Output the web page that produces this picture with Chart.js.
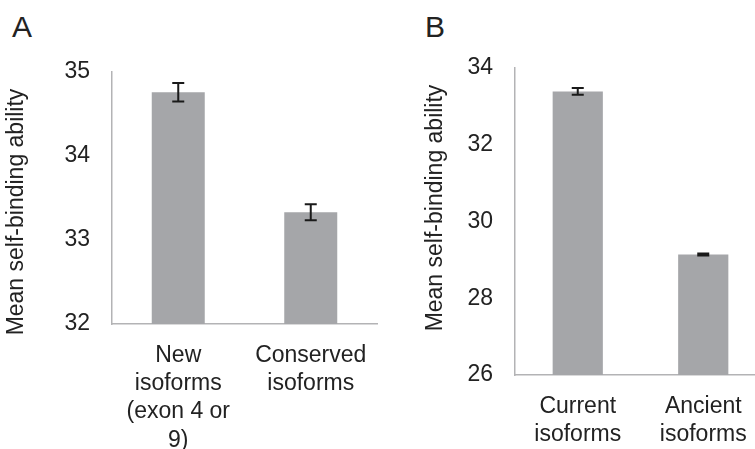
<!DOCTYPE html>
<html>
<head>
    <title>Mean self-binding ability</title>
    <script src="https://cdn.jsdelivr.net/npm/chart.js"></script>
    <style>
        html, body { margin: 0; padding: 0; overflow: hidden; background: #fff; }
        body { width: 755px; height: 449px; position: relative; font-family: "Liberation Sans", Arial, sans-serif; }
        .panel { position: absolute; top: 12px; font-size: 30px; line-height: 30px; color: #222; }
        .box { position: absolute; top: 0; height: 449px; }
        .ytitle { position: absolute; width: 300px; height: 28px; line-height: 28px; text-align: center;
                  font-size: 23px; color: #222; transform: rotate(-90deg); white-space: nowrap; z-index: 2; }
    </style>
</head>
<body>
    <div class="panel" style="left:12px">A</div>
    <div class="panel" style="left:425px">B</div>
    <div class="box" style="left:0; width:420px"><canvas id="chartA" width="420" height="449"></canvas></div>
    <div class="box" style="left:420px; width:360px"><canvas id="chartB" width="360" height="449"></canvas></div>
    <div class="ytitle" style="left:-135px; top:198px">Mean self-binding ability</div>
    <div class="ytitle" style="left:284px; top:194px">Mean self-binding ability</div>

    <script>
        // panel A
        var labelsA = [['New', 'isoforms', '(exon 4 or', '9)'], ['Conserved', 'isoforms']];
        var meansA = [34.76, 33.33];
        var errorsA = [0.11, 0.095];
        var ticksA = [32, 33, 34, 35];

        // panel B
        var labelsB = [['Current', 'isoforms'], ['Ancient', 'isoforms']];
        var meansB = [33.39, 29.14];
        var errorsB = [0.09, 0.025];
        var ticksB = [26, 28, 30, 32, 34];

        var fontName = '"Liberation Sans", Arial, sans-serif';
        var textColor = '#222';
        var axisColor = '#b3b3b5';
        var barColor = '#a5a6a9';

        // draws error bars through the y scale
        var errorBars = {
            id: 'errorBars',
            afterDatasetsDraw: function(chart, args, opts) {
                var ctx = chart.ctx;
                var y = chart.scales.y;
                var meta = chart.getDatasetMeta(0);
                var vals = chart.data.datasets[0].data;
                ctx.save();
                ctx.strokeStyle = '#1a1a1a';
                ctx.lineWidth = 2;
                meta.data.forEach(function(bar, i) {
                    var top = y.getPixelForValue(vals[i] + opts.errors[i]);
                    var bot = y.getPixelForValue(vals[i] - opts.errors[i]);
                    ctx.beginPath();
                    ctx.moveTo(bar.x, top);
                    ctx.lineTo(bar.x, bot);
                    ctx.moveTo(bar.x - 6, top);
                    ctx.lineTo(bar.x + 6, top);
                    ctx.moveTo(bar.x - 6, bot);
                    ctx.lineTo(bar.x + 6, bot);
                    ctx.stroke();
                });
                ctx.restore();
            }
        };

        function makeChart(id, labels, means, errors, ticks, step, yWidth, xHeight, padTop, padRight) {
            return new Chart(document.getElementById(id).getContext('2d'), {
                type: 'bar',
                data: {
                    labels: labels,
                    datasets: [{
                        data: means,
                        backgroundColor: barColor,
                        borderWidth: 0,
                        categoryPercentage: 1,
                        barPercentage: 0.4
                    }]
                },
                plugins: [errorBars],
                options: {
                    responsive: false,
                    animation: false,
                    events: [],
                    layout: { padding: { top: padTop, right: padRight, left: 0, bottom: 0 } },
                    plugins: {
                        legend: { display: false },
                        tooltip: { enabled: false },
                        errorBars: { errors: errors }
                    },
                    scales: {
                        x: {
                            grid: { display: false, drawTicks: false },
                            border: { display: true, color: axisColor, width: 1.5 },
                            ticks: {
                                color: textColor,
                                padding: 18,
                                maxRotation: 0,
                                autoSkip: false,
                                font: { family: fontName, size: 23, lineHeight: 1.22 }
                            },
                            afterFit: function(scale) { scale.height = xHeight; }
                        },
                        y: {
                            min: ticks[0],
                            max: ticks[ticks.length - 1],
                            grid: { display: false, drawTicks: false },
                            border: { display: true, color: axisColor, width: 1.5 },
                            ticks: {
                                stepSize: step,
                                color: textColor,
                                padding: 22,
                                font: { family: fontName, size: 23 }
                            },
                            afterFit: function(scale) { scale.width = yWidth; }
                        }
                    }
                }
            });
        }

        var chartA = makeChart('chartA', labelsA, meansA, errorsA, ticksA, 1, 112, 125, 72, 43);
        var chartB = makeChart('chartB', labelsB, meansB, errorsB, ticksB, 2, 95, 74, 68, 14);
    </script>
</body>
</html>
